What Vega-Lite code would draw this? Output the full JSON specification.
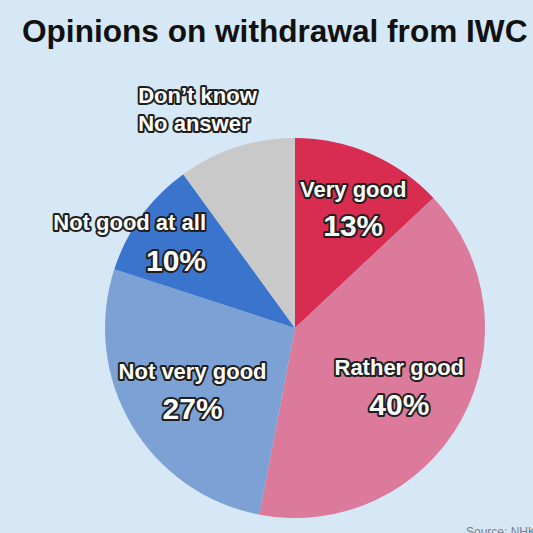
{
  "$schema": "https://vega.github.io/schema/vega-lite/v6.json",
  "width": 476,
  "height": 410,
  "autosize": {"type": "none"},
  "padding": {"left": 57, "top": 123, "right": 0, "bottom": 0},
  "background": "#d6e8f6",
  "config": {"view": {"stroke": null}},
  "title": {
    "text": "Opinions on withdrawal from IWC",
    "anchor": "start",
    "frame": "group",
    "font": "Liberation Sans",
    "fontSize": 31.6,
    "fontWeight": "bold",
    "color": "#111111",
    "baseline": "alphabetic",
    "offset": 12,
    "dx": -35
  },
  "layer": [
    {
      "data": {
        "values": [
          {"idx": 1, "cat": "Very good", "name": "Very good", "pct": 13, "label": "13%"},
          {"idx": 2, "cat": "Rather good", "name": "Rather good", "pct": 40, "label": "40%"},
          {"idx": 3, "cat": "Not very good", "name": "Not very good", "pct": 27, "label": "27%"},
          {"idx": 4, "cat": "Not good at all", "name": "Not good at all", "pct": 10, "label": "10%"},
          {"idx": 5, "cat": "Don’t know / No answer", "name": "Don’t know\nNo answer", "pct": 10, "label": ""}
        ]
      },
      "encoding": {
        "theta": {"field": "pct", "type": "quantitative", "stack": true},
        "order": {"field": "idx", "type": "quantitative"},
        "detail": {"field": "cat", "type": "nominal"}
      },
      "layer": [
        {
          "mark": {"type": "arc", "outerRadius": 190},
          "encoding": {
            "color": {
              "field": "cat",
              "type": "nominal",
              "legend": null,
              "scale": {
                "domain": ["Very good", "Rather good", "Not very good", "Not good at all", "Don’t know / No answer"],
                "range": ["#d82c50", "#db7a9b", "#7ca1d4", "#3b74cc", "#c9c9c9"]
              }
            }
          }
        },
        {
          "mark": {"type": "text", "radius": 119, "align": "center", "baseline": "middle", "dy": -17, "font": "Liberation Sans", "fontWeight": "bold", "fontSize": 22, "fill": "#1e1e1e", "stroke": "#1e1e1e", "strokeWidth": 4, "strokeJoin": "round"},
          "encoding": {"text": {"condition": {"test": "datum.cat === 'Rather good' || datum.cat === 'Not very good'", "field": "name"}, "value": ""}}
        },
        {
          "mark": {"type": "text", "radius": 119, "align": "center", "baseline": "middle", "dy": -17, "font": "Liberation Sans", "fontWeight": "bold", "fontSize": 22, "fill": "white"},
          "encoding": {"text": {"condition": {"test": "datum.cat === 'Rather good' || datum.cat === 'Not very good'", "field": "name"}, "value": ""}}
        },
        {
          "mark": {"type": "text", "radius": 119, "align": "center", "baseline": "middle", "dy": 21, "font": "Liberation Sans", "fontWeight": "bold", "fontSize": 30, "fill": "#1e1e1e", "stroke": "#1e1e1e", "strokeWidth": 4, "strokeJoin": "round"},
          "encoding": {"text": {"condition": {"test": "datum.cat === 'Rather good' || datum.cat === 'Not very good'", "field": "label"}, "value": ""}}
        },
        {
          "mark": {"type": "text", "radius": 119, "align": "center", "baseline": "middle", "dy": 21, "font": "Liberation Sans", "fontWeight": "bold", "fontSize": 30, "fill": "white"},
          "encoding": {"text": {"condition": {"test": "datum.cat === 'Rather good' || datum.cat === 'Not very good'", "field": "label"}, "value": ""}}
        },
        {
          "mark": {"type": "text", "radius": 134, "align": "center", "baseline": "middle", "dx": 5, "dy": -15, "font": "Liberation Sans", "fontWeight": "bold", "fontSize": 22, "fill": "#1e1e1e", "stroke": "#1e1e1e", "strokeWidth": 4, "strokeJoin": "round"},
          "encoding": {"text": {"condition": {"test": "datum.cat === 'Very good'", "field": "name"}, "value": ""}}
        },
        {
          "mark": {"type": "text", "radius": 134, "align": "center", "baseline": "middle", "dx": 5, "dy": -15, "font": "Liberation Sans", "fontWeight": "bold", "fontSize": 22, "fill": "white"},
          "encoding": {"text": {"condition": {"test": "datum.cat === 'Very good'", "field": "name"}, "value": ""}}
        },
        {
          "mark": {"type": "text", "radius": 134, "align": "center", "baseline": "middle", "dx": 5, "dy": 22, "font": "Liberation Sans", "fontWeight": "bold", "fontSize": 30, "fill": "#1e1e1e", "stroke": "#1e1e1e", "strokeWidth": 4, "strokeJoin": "round"},
          "encoding": {"text": {"condition": {"test": "datum.cat === 'Very good'", "field": "label"}, "value": ""}}
        },
        {
          "mark": {"type": "text", "radius": 134, "align": "center", "baseline": "middle", "dx": 5, "dy": 22, "font": "Liberation Sans", "fontWeight": "bold", "fontSize": 30, "fill": "white"},
          "encoding": {"text": {"condition": {"test": "datum.cat === 'Very good'", "field": "label"}, "value": ""}}
        },
        {
          "mark": {"type": "text", "radius": 110, "align": "right", "baseline": "middle", "dy": -40, "font": "Liberation Sans", "fontWeight": "bold", "fontSize": 22, "fill": "#1e1e1e", "stroke": "#1e1e1e", "strokeWidth": 4, "strokeJoin": "round"},
          "encoding": {"text": {"condition": {"test": "datum.cat === 'Not good at all'", "field": "name"}, "value": ""}}
        },
        {
          "mark": {"type": "text", "radius": 110, "align": "right", "baseline": "middle", "dy": -40, "font": "Liberation Sans", "fontWeight": "bold", "fontSize": 22, "fill": "white"},
          "encoding": {"text": {"condition": {"test": "datum.cat === 'Not good at all'", "field": "name"}, "value": ""}}
        },
        {
          "mark": {"type": "text", "radius": 110, "align": "right", "baseline": "middle", "dy": -1, "font": "Liberation Sans", "fontWeight": "bold", "fontSize": 30, "fill": "#1e1e1e", "stroke": "#1e1e1e", "strokeWidth": 4, "strokeJoin": "round"},
          "encoding": {"text": {"condition": {"test": "datum.cat === 'Not good at all'", "field": "label"}, "value": ""}}
        },
        {
          "mark": {"type": "text", "radius": 110, "align": "right", "baseline": "middle", "dy": -1, "font": "Liberation Sans", "fontWeight": "bold", "fontSize": 30, "fill": "white"},
          "encoding": {"text": {"condition": {"test": "datum.cat === 'Not good at all'", "field": "label"}, "value": ""}}
        },
        {
          "mark": {"type": "text", "radius": 229, "align": "left", "baseline": "middle", "dx": -86, "dy": -14, "lineBreak": "\n", "lineHeight": 28, "font": "Liberation Sans", "fontWeight": "bold", "fontSize": 22, "fill": "#1e1e1e", "stroke": "#1e1e1e", "strokeWidth": 4, "strokeJoin": "round"},
          "encoding": {"text": {"condition": {"test": "datum.idx === 5", "field": "name"}, "value": ""}}
        },
        {
          "mark": {"type": "text", "radius": 229, "align": "left", "baseline": "middle", "dx": -86, "dy": -14, "lineBreak": "\n", "lineHeight": 28, "font": "Liberation Sans", "fontWeight": "bold", "fontSize": 22, "fill": "white"},
          "encoding": {"text": {"condition": {"test": "datum.idx === 5", "field": "name"}, "value": ""}}
        }
      ]
    },
    {
      "data": {"values": [{"note": "Source: NHK"}]},
      "mark": {"type": "text", "x": {"expr": "width"}, "y": {"expr": "height"}, "dx": 3, "dy": 3, "align": "right", "baseline": "alphabetic", "font": "Liberation Sans", "fontSize": 12, "fill": "#7a7f86"},
      "encoding": {"text": {"field": "note", "type": "nominal"}}
    }
  ]
}
